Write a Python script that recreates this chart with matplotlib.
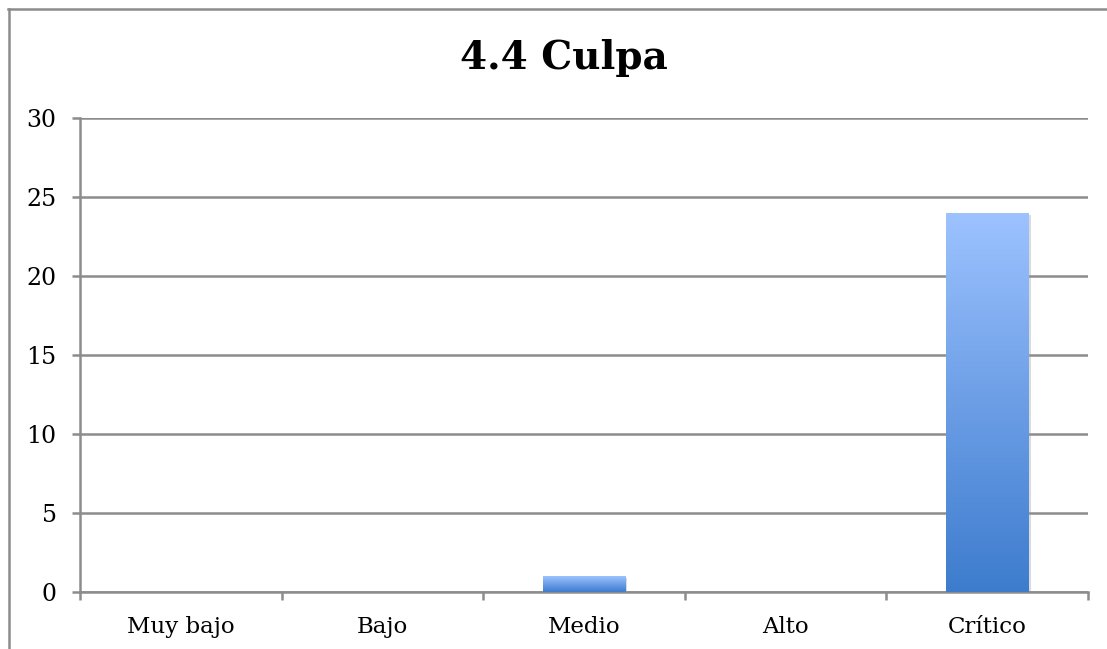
import matplotlib.pyplot as plt
import numpy as np
from matplotlib.lines import Line2D
from matplotlib.colors import LinearSegmentedColormap
import matplotlib.patheffects as pe

categorias = ["Muy bajo", "Bajo", "Medio", "Alto", "Crítico"]
valores = [0, 0, 1, 0, 24]
yticks = [0, 5, 10, 15, 20, 25, 30]

W, H = 1107, 649
fig = plt.figure(figsize=(W / 100, H / 100), dpi=100)
ax = fig.add_axes([80 / W, 1 - 592 / H, (1088 - 80) / W, (592 - 118) / H])

gris = "#8c8c8c"
x = np.arange(len(categorias))

# degradado azul de cada barra (claro arriba, oscuro abajo)
cmap = LinearSegmentedColormap.from_list("azul", ["#3d7ccd", "#6c9ee6", "#9dc3ff"])
grad = np.linspace(0, 1, 256).reshape(-1, 1)

barras = ax.bar(x, valores, width=0.41, color="none", zorder=3)
for b, v in zip(barras, valores):
    if v <= 0:
        continue
    x0 = b.get_x()
    w = b.get_width()
    sombra = plt.Rectangle((x0, 0), w, v, facecolor="white", edgecolor="none", zorder=2,
                           path_effects=[pe.SimplePatchShadow(offset=(1.5, -1.5), shadow_rgbFace="#999999", alpha=0.35)])
    ax.add_patch(sombra)
    im = ax.imshow(grad, cmap=cmap, origin="lower", aspect="auto",
                   extent=[x0, x0 + w, 0, v], zorder=3, interpolation="bicubic")
    im.set_clip_path(b)

ax.set_xlim(-0.5, len(categorias) - 0.5)
ax.set_ylim(0, 30)
ax.set_yticks(yticks)
ax.set_xticks(x)
ax.set_xticklabels(categorias)
ax.set_xticks(np.arange(-0.5, len(categorias)), minor=True)

ax.grid(axis="y", color=gris, linewidth=1.8, zorder=1)
ax.set_axisbelow(True)
for s in ["top", "right"]:
    ax.spines[s].set_visible(False)
for s in ["left", "bottom"]:
    ax.spines[s].set_color(gris)
    ax.spines[s].set_linewidth(1.8)

ax.tick_params(axis="y", length=5.8, width=1.8, color=gris, pad=11, labelsize=17)
ax.tick_params(axis="x", which="major", length=0, pad=17, labelsize=16.5)
ax.tick_params(axis="x", which="minor", length=5.8, width=1.8, color=gris)
for lbl in ax.get_xticklabels() + ax.get_yticklabels():
    lbl.set_fontfamily("DejaVu Serif")

fig.text(0.509, 1 - 58 / H, "4.4 Culpa", ha="center", va="center",
         fontsize=28, fontweight="bold", fontfamily="DejaVu Serif")

# marco exterior del gráfico
fig.add_artist(Line2D([8.5 / W, 8.5 / W], [-0.01, 1 - 9 / H], transform=fig.transFigure, color=gris, lw=1.8))
fig.add_artist(Line2D([8 / W, 1.01], [1 - 9 / H, 1 - 9 / H], transform=fig.transFigure, color=gris, lw=1.8))

fig.savefig("out.png", dpi=100)
